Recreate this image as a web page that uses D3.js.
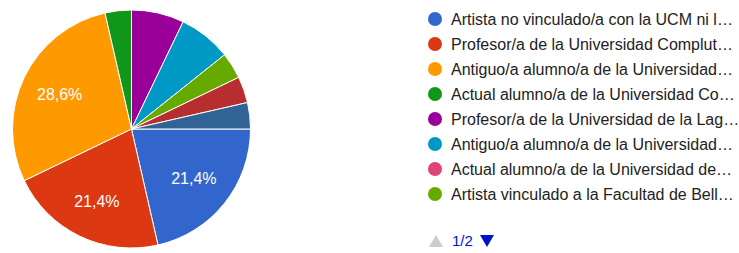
<!DOCTYPE html>
<html lang="es">
<head>
  <meta charset="UTF-8" />
  <title>Pie chart</title>
  <script src="https://d3js.org/d3.v7.min.js"></script>
  <style>
    body { margin: 0; background: #fff; font-family: Arial, "Liberation Sans", sans-serif; }
    svg { display: block; }
  </style>
</head>
<body>
  <svg id="chart" width="739" height="253"></svg>

  <script>
    // respuestas (28 en total)
    const categories = [
      "Artista no vinculado/a con la UCM ni l\u2026",
      "Profesor/a de la Universidad Complut\u2026",
      "Antiguo/a alumno/a de la Universidad\u2026",
      "Actual alumno/a de la Universidad Co\u2026",
      "Profesor/a de la Universidad de la Lag\u2026",
      "Antiguo/a alumno/a de la Universidad\u2026",
      "Actual alumno/a de la Universidad de\u2026",
      "Artista vinculado a la Facultad de Bell\u2026",
      "Otro/a (1)",
      "Otro/a (2)"
    ];
    const counts = [6, 6, 8, 1, 2, 2, 0, 1, 1, 1];
    const colors = ["#3366cc", "#dc3912", "#ff9900", "#109618", "#990099",
                    "#0099c6", "#dd4477", "#66aa00", "#b82e2e", "#316395"];
    const pageLabel = "1/2";
    const perPage = 8;

    const svg = d3.select("#chart");
    const cx = 131.5, cy = 129, r = 119;

    const data = categories.map((c, i) => ({ name: c, value: counts[i], color: colors[i] }));
    const total = d3.sum(counts);

    const pie = d3.pie()
      .value(d => d.value)
      .sort(null)
      .startAngle(Math.PI / 2)
      .endAngle(Math.PI / 2 + 2 * Math.PI);

    const arc = d3.arc().innerRadius(0).outerRadius(r);
    const labelArc = d3.arc().innerRadius(r * 0.67).outerRadius(r * 0.67);

    const g = svg.append("g").attr("transform", `translate(${cx},${cy})`);
    const arcs = pie(data).filter(d => d.value > 0);

    g.selectAll("path")
      .data(arcs)
      .join("path")
      .attr("d", arc)
      .attr("fill", d => d.data.color)
      .attr("stroke", "#fff")
      .attr("stroke-width", 1);

    const fmt = v => (v * 100).toFixed(1).replace(".", ",") + "%";
    g.selectAll("text")
      .data(arcs.filter(d => d.value / total > 0.1))
      .join("text")
      .attr("transform", d => `translate(${labelArc.centroid(d)})`)
      .attr("text-anchor", "middle")
      .attr("dy", "0.36em")
      .attr("fill", "#fff")
      .attr("font-size", 16)
      .text(d => fmt(d.value / total));

    // legend
    const legend = svg.append("g").attr("transform", "translate(435,19)");
    const row = legend.selectAll("g")
      .data(data.slice(0, perPage))
      .join("g")
      .attr("transform", (d, i) => `translate(0,${i * 25})`);
    row.append("circle").attr("r", 7).attr("fill", d => d.color);
    row.append("text")
      .attr("x", 16)
      .attr("dy", "0.36em")
      .attr("font-size", 16)
      .attr("fill", "#222")
      .text(d => d.name);

    // pager
    const pager = svg.append("g").attr("transform", "translate(436,241)");
    pager.append("path").attr("d", "M-7,6L7,6L0,-6Z").attr("fill", "#ccc");
    pager.append("text").attr("x", 16).attr("dy", "0.36em")
      .attr("font-size", 15).attr("fill", "#0011cc").text(pageLabel);
    pager.append("path").attr("d", "M44,-6L58,-6L51,6Z").attr("fill", "#0011cc");
  </script>
</body>
</html>
